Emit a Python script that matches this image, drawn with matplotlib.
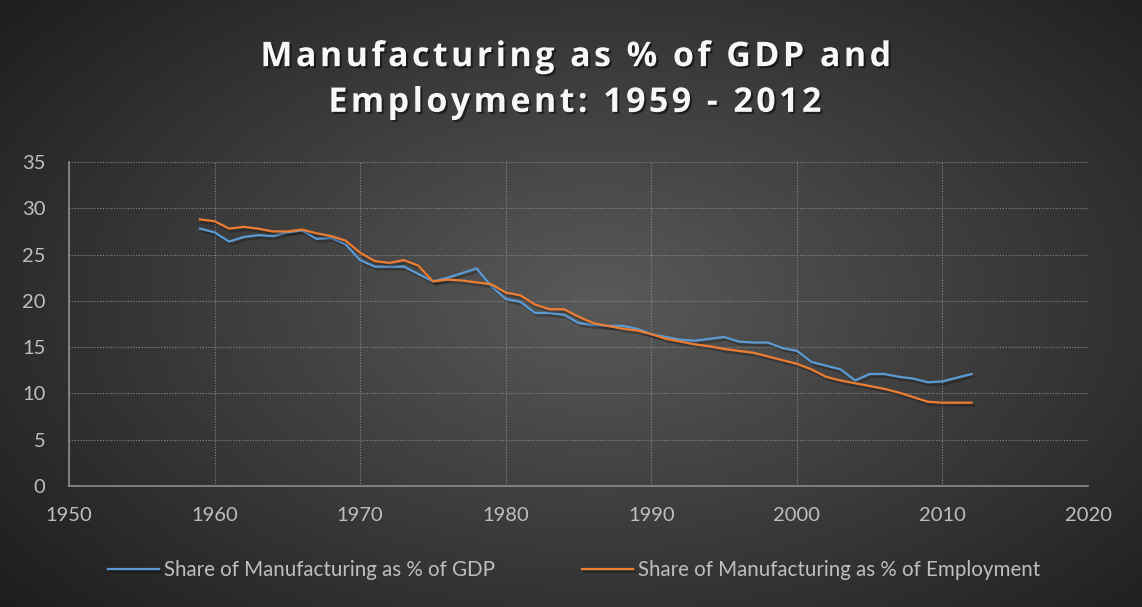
import matplotlib.pyplot as plt
import matplotlib.patheffects as pe
import numpy as np

# data #########################################################################
years = list(range(1959, 2013))
gdp_share = [27.8, 27.4, 26.4, 26.9, 27.1, 27.0, 27.4, 27.6, 26.7, 26.8,
             26.1, 24.4, 23.7, 23.7, 23.7, 22.9, 22.1, 22.5, 23.0, 23.5,
             21.6, 20.2, 19.9, 18.7, 18.7, 18.5, 17.6, 17.4, 17.3, 17.3,
             17.0, 16.4, 16.1, 15.8, 15.7, 15.9, 16.1, 15.6, 15.5, 15.5,
             14.9, 14.6, 13.4, 13.0, 12.6, 11.4, 12.1, 12.1, 11.8, 11.6,
             11.2, 11.3, 11.7, 12.1]
emp_share = [28.8, 28.6, 27.8, 28.0, 27.8, 27.5, 27.5, 27.7, 27.3, 27.0,
             26.5, 25.2, 24.3, 24.1, 24.4, 23.8, 22.1, 22.3, 22.2, 22.0,
             21.8, 20.9, 20.6, 19.6, 19.1, 19.1, 18.3, 17.6, 17.3, 17.0,
             16.8, 16.4, 15.9, 15.6, 15.3, 15.1, 14.8, 14.6, 14.4, 14.0,
             13.6, 13.2, 12.6, 11.8, 11.4, 11.1, 10.8, 10.5, 10.1, 9.6,
             9.1, 9.0, 9.0, 9.0]
labels = ["Share of Manufacturing as % of GDP",
          "Share of Manufacturing as % of Employment"]
title_lines = ["Manufacturing as % of GDP and", "Employment: 1959 - 2012"]

# init #########################################################################
W, H = 1142, 607
fig = plt.figure(figsize=(W / 100, H / 100), dpi=100)

# radial gradient background
bg = fig.add_axes([0, 0, 1, 1])
yy, xx = np.mgrid[0:H, 0:W]
r = np.sqrt(((xx - 600) / 700.0) ** 2 + ((yy - 300) / 420.0) ** 2)
shade = np.clip(0.35 - 0.21 * r, 0.1, 0.4)
bg.imshow(np.dstack([shade] * 3), aspect='auto', extent=[0, 1, 0, 1])
bg.set_axis_off()

ax = fig.add_axes([69 / W, 1 - 486 / H, (1088 - 69) / W, (486 - 162) / H])
ax.patch.set_alpha(0)

# plot #########################################################################
shadow = [pe.SimpleLineShadow(offset=(1.5, -2), shadow_color='black', alpha=0.25),
          pe.Normal()]
ax.plot(years, gdp_share, "-", c='#5b9bd5', lw=1.6, label=labels[0],
        path_effects=shadow)
ax.plot(years, emp_share, "-", c='#ed7d31', lw=1.6, label=labels[1],
        path_effects=shadow)

# axis #########################################################################
ax.set_xlim(1950, 2020)
ax.set_ylim(0, 35)
ax.set_xticks(range(1950, 2021, 10))
ax.set_yticks(range(0, 36, 5))
ax.grid(True, ls=(0, (1, 1.5)), c='#8a8a8a', lw=0.8)
ax.tick_params(length=0, labelsize=14.5, labelcolor='#bfbfbf')
ax.tick_params(axis='x', pad=15)
ax.tick_params(axis='y', pad=17)
for lab in ax.get_xticklabels() + ax.get_yticklabels():
    lab.set_family('Lato')
for s in ['top', 'right']:
    ax.spines[s].set_visible(False)
for s in ['left', 'bottom']:
    ax.spines[s].set_color('#8c8c8c')
    ax.spines[s].set_linewidth(1.2)

# title / legend ###############################################################
hair = '\u200a'
title = "\n".join(hair.join(line) for line in title_lines)
fig.text(0.503, 1 - 80 / H, title, ha='center', va='center', color='#f7f7f7',
         fontsize=24.5, fontweight='bold', family=['Open Sans', 'DejaVu Sans'],
         linespacing=1.45,
         path_effects=[pe.SimplePatchShadow(offset=(1.5, -1.5),
                                            shadow_rgbFace='black', alpha=0.5),
                       pe.Normal()])

leg = fig.legend(loc='center', bbox_to_anchor=(574 / W, 1 - 570 / H), ncol=2,
                 frameon=False, handlelength=2.5, handletextpad=0.25,
                 columnspacing=4.2, prop={'family': 'Lato', 'size': 14.8})
for t in leg.get_texts():
    t.set_color('#bfbfbf')

fig.savefig("out.png", dpi=100)
